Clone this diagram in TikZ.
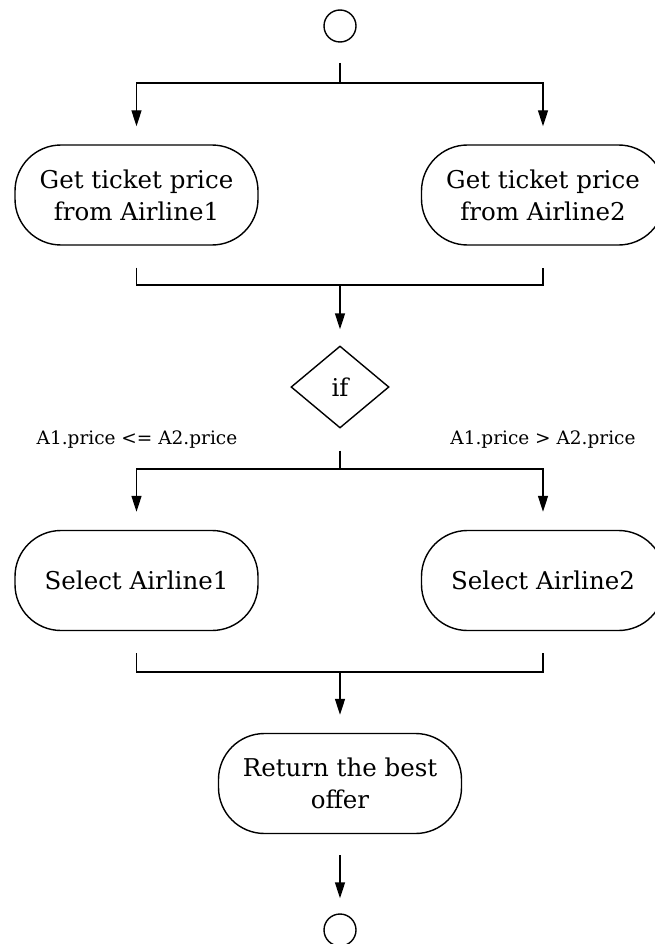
\documentclass[tikz,border=0pt]{standalone}
\usepackage{fontspec}
\setmainfont{DejaVu Serif}
\usetikzlibrary{arrows.meta,shapes.geometric}
\begin{document}
\begin{tikzpicture}[x=1pt,y=-1pt,
  line width=1.4pt,
  act/.style={draw,rounded corners=46pt,minimum width=243pt,minimum height=100pt,align=center,font=\fontsize{24.5}{32}\selectfont,inner sep=0pt},
  dec/.style={draw,diamond,minimum width=98pt,minimum height=82pt,inner sep=0pt,font=\fontsize{24.5}{28}\selectfont},
  term/.style={draw,circle,minimum size=32pt,inner sep=0pt},
  flow/.style={-{Triangle[length=16pt,width=10pt]}},
  lbl/.style={font=\fontsize{18.5}{22}\selectfont}]
\useasboundingbox (0,0) rectangle (654,944);
\node[term] (start) at (340,26) {};
\node[act] (a1) at (136.5,195) {Get ticket price\\from Airline1};
\node[act] (a2) at (543,195) {Get ticket price\\from Airline2};
\node[dec] (if) at (340,387) {if};
\node[lbl] (l1) at (137,440) {A1.price <= A2.price};
\node[lbl] (l2) at (543,440) {A1.price > A2.price};
\node[act] (s1) at (136.5,580.5) {Select Airline1};
\node[act] (s2) at (543,580.5) {Select Airline2};
\node[act] (ret) at (340,783.5) {Return the best\\offer};
\node[term] (end) at (340,930) {};
\coordinate (f1top) at (340,63);
\coordinate (f1) at (340,83);
\coordinate (j1) at (340,285);
\coordinate (f2) at (340,469);
\coordinate (j2) at (340,672);
% fork 1
\draw (f1top) -- (f1);
\draw[flow,shorten >=18pt] (f1) -| (a1.north);
\draw[flow,shorten >=18pt] (f1) -| (a2.north);
% join 1
\draw[shorten <=22pt,shorten >=22pt] (a1.south) |- (j1) -| (a2.south);
\draw[flow,shorten >=16pt] (j1) -- (if.north);
% fork 2
\draw[shorten <=22pt] (if.south) -- (f2);
\draw[flow,shorten >=18pt] (f2) -| (s1.north);
\draw[flow,shorten >=18pt] (f2) -| (s2.north);
% join 2
\draw[shorten <=22pt,shorten >=22pt] (s1.south) |- (j2) -| (s2.south);
\draw[flow,shorten >=18pt] (j2) -- (ret.north);
\draw[flow,shorten <=21pt,shorten >=15pt] (ret.south) -- (end.north);
\end{tikzpicture}
\end{document}
